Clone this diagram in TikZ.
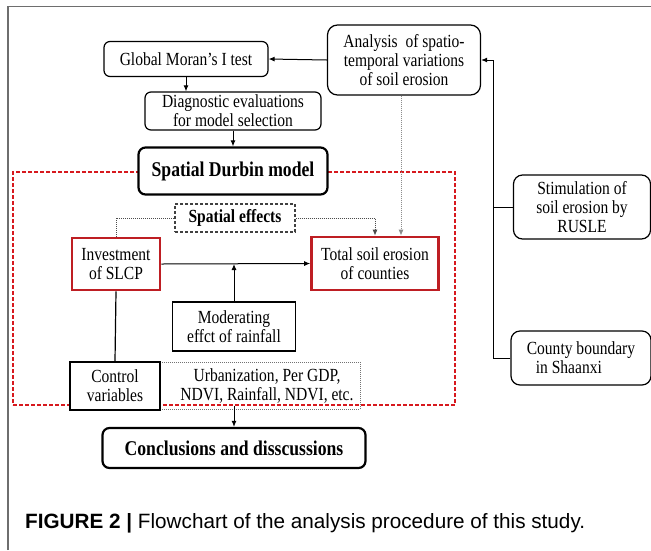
\documentclass[tikz,border=0pt]{standalone}
\usepackage{fontspec}
\setmainfont[FakeStretch=0.84]{Liberation Serif}
\newfontfamily\capfont{Liberation Sans}
\usetikzlibrary{arrows.meta}
\definecolor{boxred}{RGB}{190,30,35}
\definecolor{dashred}{RGB}{215,25,30}
\definecolor{framegray}{RGB}{110,110,110}
\tikzset{
  txt/.style={font=\fontsize{18.5}{19}\selectfont, align=center, inner sep=0pt},
  rbox/.style={txt, draw, line width=1.2pt, rounded corners=6pt},
  thickbox/.style={draw, line width=2.2pt, rounded corners=7pt, fill=white, align=center, inner sep=0pt, font=\fontsize{21}{23}\selectfont\bfseries},
  redbox/.style={txt, draw=boxred, line width=2.6pt},
  plainbox/.style={txt, draw, line width=1.5pt},
  arr/.style={-{Latex[length=6pt,width=5pt]}, line width=1pt},
  dotline/.style={densely dotted, line width=1pt, draw=black!70},
}
\begin{document}
\begin{tikzpicture}[x=1pt,y=-1pt]
\useasboundingbox (0,0) rectangle (651,550);
% frame
\draw[framegray, line width=1.6pt] (8,550) -- (8,6.5) -- (651,6.5);
% red dashed region
\node[draw=dashred, dashed, dash pattern=on 4pt off 2pt, line width=1.4pt, minimum width=442pt, minimum height=233pt, inner sep=0pt] (region) at (234,288.5) {};
% nodes
\node[rbox, minimum width=164pt, minimum height=35pt] (global) at (186,59) {Global Moran’s I test};
\node[rbox, rounded corners=10pt, minimum width=153pt, minimum height=70pt] (analysis) at (404,60) {Analysis\ \ of spatio-\\temporal variations\\of soil erosion};
\node[rbox, minimum width=176pt, minimum height=38pt] (diag) at (233,111) {Diagnostic evaluations\\for model selection};
\node[thickbox, minimum width=189pt, minimum height=47pt] (sdm) at (233,171) {Spatial Durbin model};
\node[txt, draw=black!75, dashed, dash pattern=on 3pt off 2pt, line width=1.3pt, minimum width=120pt, minimum height=28pt, font=\fontsize{18.5}{19}\selectfont\bfseries] (se) at (235,218) {Spatial effects};
\node[redbox, minimum width=88pt, minimum height=52pt] (inv) at (116,264) {Investment\\of SLCP};
\node[redbox, minimum width=127pt, minimum height=53pt] (tot) at (375,263.5) {Total soil erosion\\of counties};
\node[plainbox, minimum width=123pt, minimum height=49pt] (mod) at (234,326.5) {Moderating\\effct of rainfall};
\node[txt, draw=black!55, densely dotted, line width=1pt, minimum width=200pt, minimum height=47pt] (urb) at (260,385.5) {\hspace*{14pt}Urbanization, Per GDP,\\\hspace*{14pt}NDVI, Rainfall, NDVI, etc.};
\node[txt, draw, fill=white, line width=2.2pt, minimum width=90pt, minimum height=48pt] (ctrl) at (115,386) {Control\\variables};
\node[thickbox, minimum width=263pt, minimum height=40pt] (concl) at (234,448) {Conclusions and disscussions};
\node[rbox, rounded corners=9pt, minimum width=137pt, minimum height=64pt] (stim) at (582,207) {Stimulation of\\soil erosion by\\RUSLE};
\node[rbox, rounded corners=9pt, minimum width=140pt, minimum height=54pt, align=left] (county) at (581,358) {County boundary\\\hspace*{9pt}in Shaanxi};
% caption
\node[anchor=base west, inner sep=0pt, font=\fontsize{20.7}{24}\capfont] (cap) at (25,528) {\textbf{FIGURE 2 |} Flowchart of the analysis procedure of this study.};
% coordinates
\coordinate (rx) at (493,60);
\coordinate (rs) at (493,207);
\coordinate (rc) at (493,358);
\coordinate (se1) at (116,218);
\coordinate (se2) at (375,218);
% connectors
\draw[arr] (analysis.west) -- (global.east);
\draw[arr] (global.south) -- (diag.north -| global.south);
\draw[arr] (diag.south) -- (sdm.north);
\draw[line width=1pt] (county.west) -- (rc) -- (rx);
\draw[arr] (rx) -- (analysis.east);
\draw[line width=1pt] (stim.west) -- (rs);
\draw[arr] (inv.east) -- (tot.west);
\draw[arr] (mod.north) -- (mod.north |- inv.east);
\draw[line width=1.2pt] (inv.south) -- (ctrl.north);
\draw[dotline] (inv.north -| se1) -- (se1) -- (se.west);
\draw[dotline, -{Latex[length=6pt,width=5pt]}] (se.east) -- (se2) -- (tot.north -| se2);
\draw[densely dotted, line width=1pt, -{Latex[length=6pt,width=5pt]}, color=black!45] (analysis.south -| 401,0) -- (tot.north -| 401,0);
\draw[arr] (region.south) -- (concl.north);
\end{tikzpicture}
\end{document}
